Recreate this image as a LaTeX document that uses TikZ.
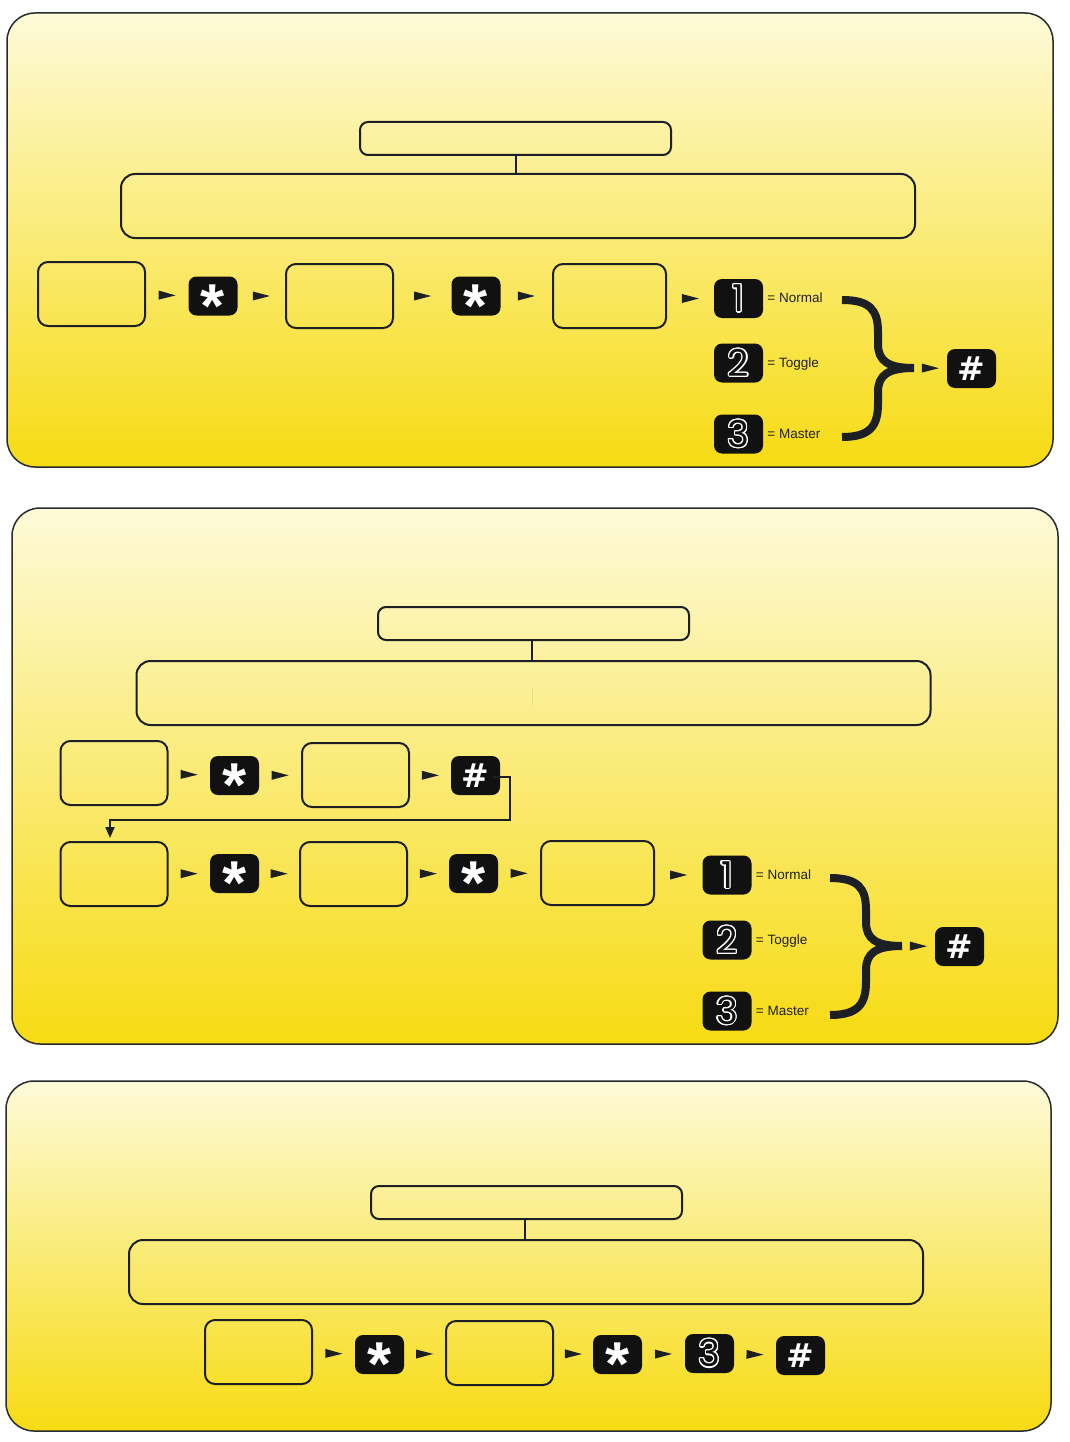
\documentclass[tikz,border=0pt]{standalone}
\usepackage{fontspec}
\setmainfont{Liberation Sans}
\newfontfamily\digitfont{Poppins}
\newfontfamily\hashfont{DejaVu Sans}
\usetikzlibrary{decorations.markings,arrows.meta}
\definecolor{ink}{HTML}{1C2024}
\definecolor{keyfill}{HTML}{111111}
\definecolor{paletop}{HTML}{FDFAD8}
\definecolor{deepyellow}{HTML}{F7DB12}
\definecolor{faintline}{HTML}{E6DA98}
\definecolor{labelink}{HTML}{222222}
\newcommand\olnum[1]{%
  \foreach \ang in {0,22.5,...,337.5}{%
    \pgfmathsetlengthmacro\olx{1.2pt*cos(\ang)}%
    \pgfmathsetlengthmacro\oly{1.2pt*sin(\ang)}%
    \rlap{\hspace*{\olx}\raisebox{\oly}{\textcolor{white}{#1}}}%
  }%
  \textcolor{keyfill}{#1}}
\newcommand\keystar{\raisebox{-0.50em}{*}}
\newcommand\keyhash{\raisebox{-0.37em}{\#}}
\newcommand\keynum[1]{\raisebox{-0.36em}{\olnum{#1}}}
\begin{document}
\begin{tikzpicture}[x=1pt,y=-1pt,
  panel/.style={draw=ink!95, line width=1.5pt, rounded corners=28pt, top color=paletop, bottom color=deepyellow},
  box/.style={draw=ink, line width=2pt, rounded corners=10pt, minimum width=107pt, minimum height=64pt, inner sep=0pt},
  wbox/.style={box, minimum width=113pt},
  titlebox/.style={draw=ink, line width=2pt, rounded corners=8pt, minimum width=311pt, minimum height=33pt, inner sep=0pt},
  bigbox/.style={draw=ink, line width=2pt, rounded corners=14pt, minimum width=794pt, minimum height=64pt, inner sep=0pt},
  key/.style={fill=keyfill, rounded corners=8pt, minimum width=49pt, minimum height=39pt, inner sep=0pt, text height=0pt, text depth=0pt, text=white},
  starkey/.style={key, font=\bfseries\fontsize{62}{62}\selectfont},
  hashkey/.style={key, font=\hashfont\bfseries\fontsize{33}{33}\selectfont},
  numkey/.style={key, font=\digitfont\fontsize{37}{37}\selectfont},
  lab/.style={anchor=base west, inner sep=0pt, text=labelink, font=\fontsize{13.5}{13.5}\selectfont},
  stem/.style={draw=ink, line width=2pt},
  tipline/.style={postaction={decorate}, decoration={markings, mark=at position 0.5 with {\fill[ink] (-8.5,-4.5) -- (8.5,0) -- (-8.5,4.5) -- cycle;}}},
  brace/.pic={\draw[ink, line width=8pt] (-72,-68) .. controls (-44,-68) and (-36,-58) .. (-36,-36) -- (-36,-24) .. controls (-36,-7) and (-26,0) .. (0,0) .. controls (-26,0) and (-36,7) .. (-36,24) -- (-36,36) .. controls (-36,58) and (-44,69) .. (-72,69);}
]
\useasboundingbox (0,0) rectangle (1070,1442);

% ---------------- Panel 1 ----------------
\path[panel] (7,13) rectangle (1053,467);
\node[titlebox] (t1) at (515.5,138.5) {};
\node[bigbox] (b1) at (518,206) {};
\draw[stem] (t1.south) -- (t1.south |- b1.north);
\node[box] (a1) at (91.5,294) {};
\node[starkey] (s11) at (213,296) {\keystar};
\node[box] (a2) at (339.5,296) {};
\node[starkey] (s12) at (476,296) {\keystar};
\node[wbox] (a3) at (609.5,296) {};
\node[numkey] (k11) at (738.5,298.5) {\keynum{1}};
\node[numkey] (k12) at (738.5,363) {\keynum{2}};
\node[numkey] (k13) at (738.5,434) {\keynum{3}};
\node[lab] (l11) at ([xshift=4pt,yshift=-4pt]k11.east) {= Normal};
\node[lab] (l12) at ([xshift=4pt,yshift=-4.5pt]k12.east) {= Toggle};
\node[lab] (l13) at ([xshift=4pt,yshift=-4.5pt]k13.east) {= Master};
\pic at (914,368) {brace};
\coordinate (bt1) at (914,368);
\node[hashkey] (h1) at (971.5,368.5) {\keyhash};
\path[tipline] (a1) -- (s11);
\path[tipline] (s11) -- (a2);
\path[tipline] (a2) -- (s12);
\path[tipline] (s12) -- (a3);
\path[tipline] (a3.east |- k11) -- (k11);
\path[tipline] (bt1) -- (h1);

% ---------------- Panel 2 ----------------
\path[panel] (12,508) rectangle (1058,1044);
\node[titlebox] (t2) at (533.5,623.5) {};
\node[bigbox] (b2) at (533.5,693) {};
\draw[stem] ([xshift=-2pt]t2.south) -- ([xshift=-2pt]t2.south |- b2.north);
\draw[faintline, line width=1pt] (532,687) -- (532,707);
\node[box] (c1) at (114,773) {};
\node[starkey] (s21) at (234.5,775.5) {\keystar};
\node[box] (c2) at (355.5,775) {};
\node[hashkey] (h21) at (475.5,775.5) {\keyhash};
\path[tipline] (c1) -- (s21);
\path[tipline] (s21) -- (c2);
\path[tipline] (c2) -- (h21);
\node[box] (d1) at (114,874) {};
\node[starkey] (s22) at (234.5,873.5) {\keystar};
\node[box] (d2) at (353.5,874) {};
\node[starkey] (s23) at (473.5,873.5) {\keystar};
\node[wbox] (d3) at (597.5,873) {};
\node[numkey] (k21) at (727,875) {\keynum{1}};
\node[numkey] (k22) at (727,940) {\keynum{2}};
\node[numkey] (k23) at (727,1011) {\keynum{3}};
\node[lab] (l21) at ([xshift=4pt,yshift=-4pt]k21.east) {= Normal};
\node[lab] (l22) at ([xshift=4pt,yshift=-4.5pt]k22.east) {= Toggle};
\node[lab] (l23) at ([xshift=4pt,yshift=-4.5pt]k23.east) {= Master};
\pic at (902,946) {brace};
\coordinate (bt2) at (902,946);
\node[hashkey] (h22) at (959.5,946.5) {\keyhash};
\path[tipline] (d1) -- (s22);
\path[tipline] (s22) -- (d2);
\path[tipline] (d2) -- (s23);
\path[tipline] (s23) -- (d3);
\path[tipline] (d3.east |- k21) -- (k21);
\path[tipline] (bt2) -- (h22);
\coordinate (jog) at (510,820);
\draw[ink, line width=2pt, -{Triangle[length=11pt,width=9pt]}, shorten >=3pt]
  ([xshift=-7pt,yshift=-1.5pt]h21.east) -| (jog) -| ([xshift=-4pt]d1.north);

% ---------------- Panel 3 ----------------
\path[panel] (6,1081) rectangle (1051,1431);
\node[titlebox] (t3) at (526.5,1202.5) {};
\node[bigbox] (b3) at (526,1272) {};
\draw[stem] ([xshift=-2pt]t3.south) -- ([xshift=-2pt]t3.south |- b3.north);
\node[box] (e1) at (258.5,1352) {};
\node[starkey] (s31) at (379.5,1354.5) {\keystar};
\node[box] (e2) at (499.5,1353) {};
\node[starkey] (s32) at (617.5,1354.5) {\keystar};
\node[numkey] (k31) at (709.5,1353.5) {\keynum{3}};
\node[hashkey] (h3) at (800.5,1355.5) {\keyhash};
\path[tipline] (e1) -- (s31);
\path[tipline] (s31) -- (e2);
\path[tipline] (e2) -- (s32);
\path[tipline] (s32) -- (k31);
\path[tipline] (k31) -- (h3);
\end{tikzpicture}
\end{document}
